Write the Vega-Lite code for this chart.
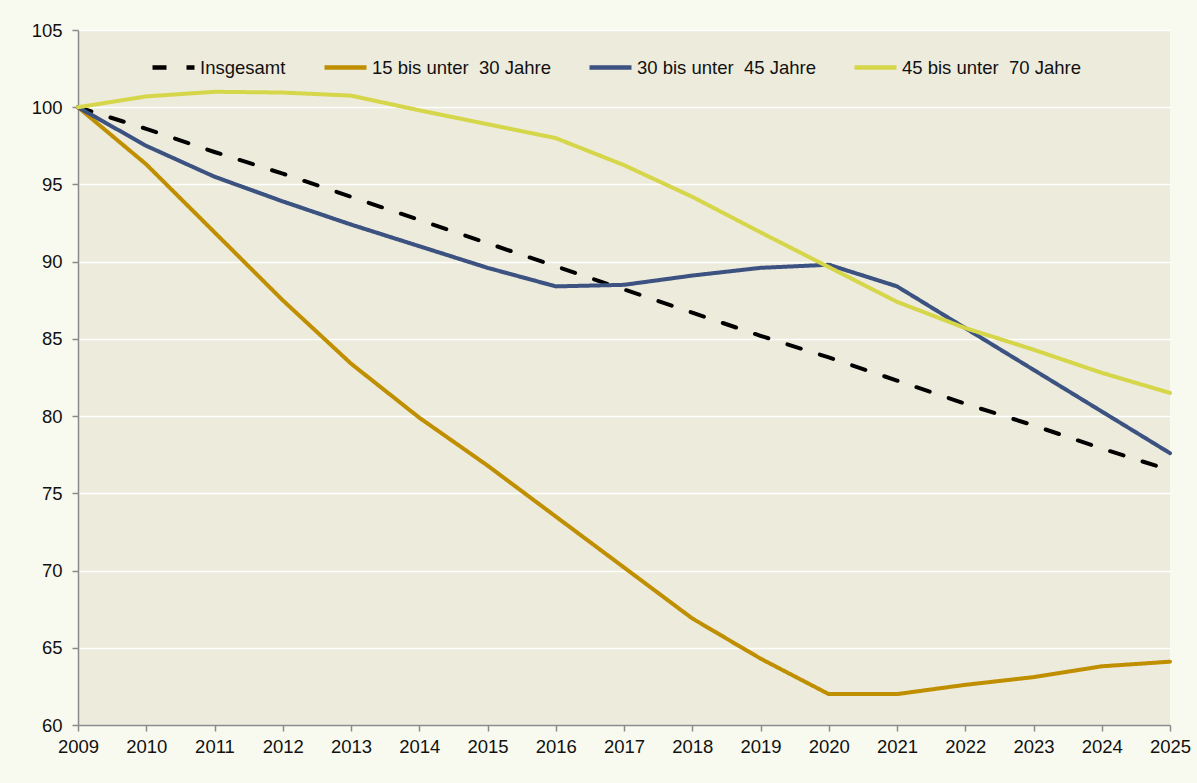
{
  "$schema": "https://vega.github.io/schema/vega-lite/v6.json",
  "autosize": {"type": "none"},
  "width": 1092,
  "height": 695,
  "padding": {"left": 78, "top": 30, "right": 27, "bottom": 58},
  "background": "#F9FAEF",
  "config": {
    "font": "Liberation Sans",
    "view": {"fill": "#EDEBDC", "stroke": null},
    "axis": {
      "domainColor": "#8A8A8A",
      "domainWidth": 1.5,
      "tickColor": "#8A8A8A",
      "tickWidth": 1.5,
      "tickSize": 6,
      "labelFontSize": 18.5,
      "labelColor": "#111111",
      "labelFont": "Liberation Sans",
      "title": null
    }
  },
  "datasets": {
    "rows": [
      {"year": 2009, "series": "Insgesamt", "value": 100},
      {"year": 2010, "series": "Insgesamt", "value": 98.6},
      {"year": 2011, "series": "Insgesamt", "value": 97.1},
      {"year": 2012, "series": "Insgesamt", "value": 95.7},
      {"year": 2013, "series": "Insgesamt", "value": 94.2},
      {"year": 2014, "series": "Insgesamt", "value": 92.7},
      {"year": 2015, "series": "Insgesamt", "value": 91.2},
      {"year": 2016, "series": "Insgesamt", "value": 89.7},
      {"year": 2017, "series": "Insgesamt", "value": 88.2},
      {"year": 2018, "series": "Insgesamt", "value": 86.7},
      {"year": 2019, "series": "Insgesamt", "value": 85.2},
      {"year": 2020, "series": "Insgesamt", "value": 83.8},
      {"year": 2021, "series": "Insgesamt", "value": 82.3},
      {"year": 2022, "series": "Insgesamt", "value": 80.8},
      {"year": 2023, "series": "Insgesamt", "value": 79.4},
      {"year": 2024, "series": "Insgesamt", "value": 77.9},
      {"year": 2025, "series": "Insgesamt", "value": 76.5},
      {"year": 2009, "series": "15 bis unter \u00a030 Jahre", "value": 100},
      {"year": 2010, "series": "15 bis unter \u00a030 Jahre", "value": 96.3},
      {"year": 2011, "series": "15 bis unter \u00a030 Jahre", "value": 91.9},
      {"year": 2012, "series": "15 bis unter \u00a030 Jahre", "value": 87.5},
      {"year": 2013, "series": "15 bis unter \u00a030 Jahre", "value": 83.4},
      {"year": 2014, "series": "15 bis unter \u00a030 Jahre", "value": 79.9},
      {"year": 2015, "series": "15 bis unter \u00a030 Jahre", "value": 76.8},
      {"year": 2016, "series": "15 bis unter \u00a030 Jahre", "value": 73.5},
      {"year": 2017, "series": "15 bis unter \u00a030 Jahre", "value": 70.2},
      {"year": 2018, "series": "15 bis unter \u00a030 Jahre", "value": 66.9},
      {"year": 2019, "series": "15 bis unter \u00a030 Jahre", "value": 64.3},
      {"year": 2020, "series": "15 bis unter \u00a030 Jahre", "value": 62.0},
      {"year": 2021, "series": "15 bis unter \u00a030 Jahre", "value": 62.0},
      {"year": 2022, "series": "15 bis unter \u00a030 Jahre", "value": 62.6},
      {"year": 2023, "series": "15 bis unter \u00a030 Jahre", "value": 63.1},
      {"year": 2024, "series": "15 bis unter \u00a030 Jahre", "value": 63.8},
      {"year": 2025, "series": "15 bis unter \u00a030 Jahre", "value": 64.1},
      {"year": 2009, "series": "30 bis unter \u00a045 Jahre", "value": 100},
      {"year": 2010, "series": "30 bis unter \u00a045 Jahre", "value": 97.5},
      {"year": 2011, "series": "30 bis unter \u00a045 Jahre", "value": 95.5},
      {"year": 2012, "series": "30 bis unter \u00a045 Jahre", "value": 93.9},
      {"year": 2013, "series": "30 bis unter \u00a045 Jahre", "value": 92.4},
      {"year": 2014, "series": "30 bis unter \u00a045 Jahre", "value": 91.0},
      {"year": 2015, "series": "30 bis unter \u00a045 Jahre", "value": 89.6},
      {"year": 2016, "series": "30 bis unter \u00a045 Jahre", "value": 88.4},
      {"year": 2017, "series": "30 bis unter \u00a045 Jahre", "value": 88.5},
      {"year": 2018, "series": "30 bis unter \u00a045 Jahre", "value": 89.1},
      {"year": 2019, "series": "30 bis unter \u00a045 Jahre", "value": 89.6},
      {"year": 2020, "series": "30 bis unter \u00a045 Jahre", "value": 89.8},
      {"year": 2021, "series": "30 bis unter \u00a045 Jahre", "value": 88.4},
      {"year": 2022, "series": "30 bis unter \u00a045 Jahre", "value": 85.7},
      {"year": 2023, "series": "30 bis unter \u00a045 Jahre", "value": 83.0},
      {"year": 2024, "series": "30 bis unter \u00a045 Jahre", "value": 80.3},
      {"year": 2025, "series": "30 bis unter \u00a045 Jahre", "value": 77.6},
      {"year": 2009, "series": "45 bis unter \u00a070 Jahre", "value": 100},
      {"year": 2010, "series": "45 bis unter \u00a070 Jahre", "value": 100.7},
      {"year": 2011, "series": "45 bis unter \u00a070 Jahre", "value": 101.0},
      {"year": 2012, "series": "45 bis unter \u00a070 Jahre", "value": 100.95},
      {"year": 2013, "series": "45 bis unter \u00a070 Jahre", "value": 100.75},
      {"year": 2014, "series": "45 bis unter \u00a070 Jahre", "value": 99.8},
      {"year": 2015, "series": "45 bis unter \u00a070 Jahre", "value": 98.9},
      {"year": 2016, "series": "45 bis unter \u00a070 Jahre", "value": 98.0},
      {"year": 2017, "series": "45 bis unter \u00a070 Jahre", "value": 96.25},
      {"year": 2018, "series": "45 bis unter \u00a070 Jahre", "value": 94.2},
      {"year": 2019, "series": "45 bis unter \u00a070 Jahre", "value": 91.9},
      {"year": 2020, "series": "45 bis unter \u00a070 Jahre", "value": 89.65},
      {"year": 2021, "series": "45 bis unter \u00a070 Jahre", "value": 87.4},
      {"year": 2022, "series": "45 bis unter \u00a070 Jahre", "value": 85.7},
      {"year": 2023, "series": "45 bis unter \u00a070 Jahre", "value": 84.3},
      {"year": 2024, "series": "45 bis unter \u00a070 Jahre", "value": 82.8},
      {"year": 2025, "series": "45 bis unter \u00a070 Jahre", "value": 81.5}
    ]
  },
  "data": {"name": "rows"},
  "mark": {"type": "line", "strokeWidth": 4, "strokeCap": "round", "strokeJoin": "round"},
  "encoding": {
    "x": {
      "field": "year",
      "type": "quantitative",
      "scale": {"domain": [2009, 2025], "nice": false, "zero": false},
      "axis": {
        "values": [2009, 2010, 2011, 2012, 2013, 2014, 2015, 2016, 2017, 2018, 2019, 2020, 2021, 2022, 2023, 2024, 2025],
        "format": "d",
        "grid": false,
        "labelPadding": 6,
        "labelFlush": false,
        "labelOverlap": false
      }
    },
    "y": {
      "field": "value",
      "type": "quantitative",
      "scale": {"domain": [60, 105], "nice": false, "zero": false},
      "axis": {
        "values": [60, 65, 70, 75, 80, 85, 90, 95, 100, 105],
        "grid": true,
        "gridColor": "#FFFFFF",
        "gridWidth": 1.5,
        "labelPadding": 10,
        "labelFlush": false
      }
    },
    "color": {
      "field": "series",
      "type": "nominal",
      "title": null,
      "sort": ["Insgesamt", "15 bis unter \u00a030 Jahre", "30 bis unter \u00a045 Jahre", "45 bis unter \u00a070 Jahre"],
      "scale": {
        "domain": ["Insgesamt", "15 bis unter \u00a030 Jahre", "30 bis unter \u00a045 Jahre", "45 bis unter \u00a070 Jahre"],
        "range": ["#000000", "#C08F00", "#3C5280", "#D6D64A"]
      },
      "legend": {
        "orient": "none",
        "direction": "horizontal",
        "legendX": 72,
        "legendY": 14,
        "symbolType": "stroke",
        "symbolSize": 1764,
        "symbolStrokeWidth": 4.5,
        "labelFontSize": 18.5,
        "labelColor": "#111111",
        "labelOffset": 3,
        "columnPadding": 29,
        "labelLimit": 300
      }
    },
    "strokeDash": {
      "field": "series",
      "type": "nominal",
      "title": null,
      "sort": ["Insgesamt", "15 bis unter \u00a030 Jahre", "30 bis unter \u00a045 Jahre", "45 bis unter \u00a070 Jahre"],
      "scale": {
        "domain": ["Insgesamt", "15 bis unter \u00a030 Jahre", "30 bis unter \u00a045 Jahre", "45 bis unter \u00a070 Jahre"],
        "range": [[14, 20], [1, 0], [1, 0], [1, 0]]
      }
    }
  }
}
